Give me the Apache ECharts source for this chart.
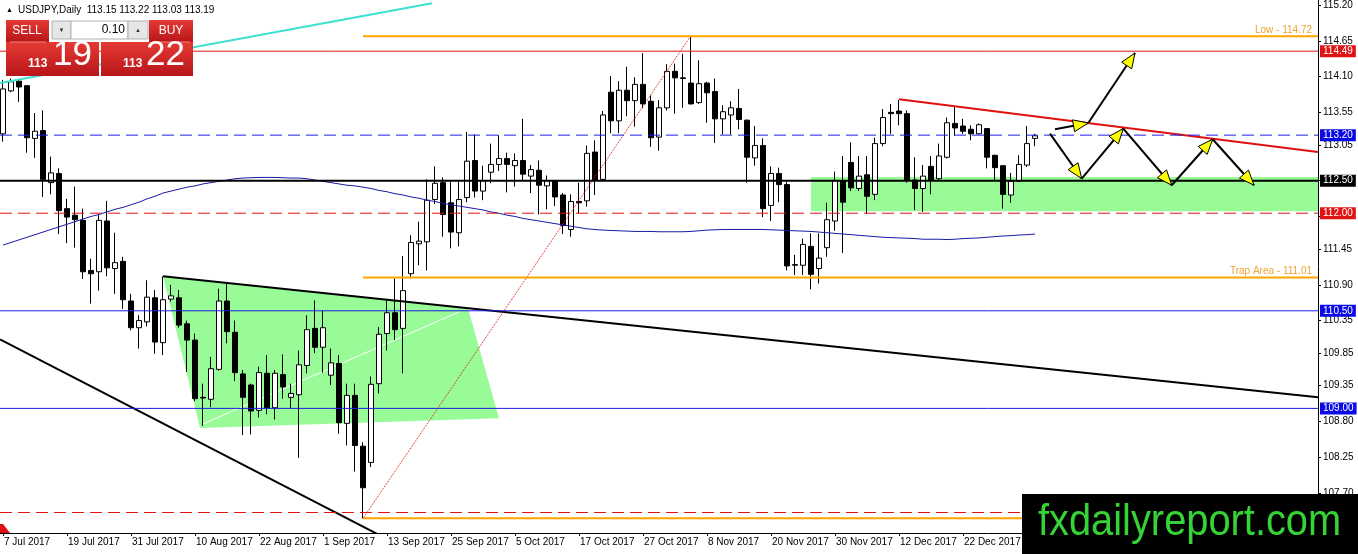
<!DOCTYPE html>
<html><head><meta charset="utf-8">
<script src="https://cdn.jsdelivr.net/npm/echarts@6/dist/echarts.min.js"></script>
<style>html,body{margin:0;padding:0;background:#fff}#c{width:1358px;height:554px}</style>
</head><body><div id="c"></div>
<script>
// ---- data ----
const xTickLabels = ['7 Jul 2017','19 Jul 2017','31 Jul 2017','10 Aug 2017','22 Aug 2017','1 Sep 2017','13 Sep 2017','25 Sep 2017','5 Oct 2017','17 Oct 2017','27 Oct 2017','8 Nov 2017','20 Nov 2017','30 Nov 2017','12 Dec 2017','22 Dec 2017'];
const barsPerLabel = 8;
const yLabelValues = [115.20,114.65,114.10,113.55,113.05,111.45,110.90,110.35,109.85,109.35,108.80,108.25,107.70];
const yTickValues = [115.20,114.65,114.10,113.55,113.05,112.50,111.95,111.45,110.90,110.35,109.85,109.35,108.80,108.25,107.70];

const opens = [
113.22,113.88,114.03,113.96,113.15,113.27,112.47,112.61,112.07,111.97,
111.89,111.12,111.10,111.88,111.15,111.26,110.65,110.24,110.33,110.70,
110.01,110.68,110.70,110.30,110.05,109.17,109.14,109.60,110.65,110.17,
109.53,109.36,108.97,109.54,109.01,109.52,109.17,109.21,109.66,110.23,
109.94,109.51,109.69,108.77,109.20,108.42,108.17,109.38,110.15,110.47,
110.23,111.07,111.53,111.56,112.21,112.47,112.16,111.70,112.24,112.81,
112.34,112.63,112.75,112.84,112.73,112.81,112.57,112.66,112.42,112.50,
112.28,111.75,112.18,112.19,112.94,112.52,113.86,113.42,113.89,113.73,
113.98,113.72,113.17,113.62,114.18,114.08,114.00,113.70,114.00,113.87,
113.45,113.51,113.61,113.43,112.85,113.04,112.12,112.61,112.44,111.20,
111.20,111.49,111.15,111.47,111.88,112.50,112.78,112.38,112.59,112.29,
113.07,113.55,113.57,113.53,112.51,112.38,112.72,112.53,112.86,113.38,
113.34,113.29,113.22,113.30,112.89,112.73,112.28,112.49,112.74,113.15];
const highs = [
114.05,114.07,114.06,113.97,113.54,113.58,112.87,112.69,112.22,112.41,
112.07,111.30,111.97,112.19,111.70,111.33,110.76,110.43,110.97,110.82,
111.03,110.90,110.82,110.35,110.15,109.38,109.79,110.84,110.92,110.35,
109.59,109.38,109.64,109.82,109.59,109.83,109.38,109.89,110.43,110.66,
110.50,109.92,109.82,109.38,109.38,108.48,109.49,110.25,110.66,111.00,
111.34,111.66,111.87,112.52,112.72,112.55,112.48,112.50,113.25,113.21,
112.73,113.07,113.20,112.93,112.92,113.45,112.74,112.81,112.58,112.51,
112.31,112.29,112.47,113.04,113.12,113.57,114.11,114.03,114.25,114.09,
114.46,113.81,113.74,114.29,114.30,114.45,114.73,114.35,114.02,114.07,
113.66,113.72,113.91,113.44,113.34,113.15,112.72,112.70,112.48,111.36,
111.61,111.69,111.69,112.16,112.64,112.88,113.09,112.88,112.88,113.16,
113.60,113.68,113.74,113.58,112.86,112.74,112.88,113.07,113.47,113.63,
113.45,113.35,113.38,113.31,112.90,112.74,112.62,112.89,113.34,113.22];
const lows = [
113.10,113.86,113.71,112.93,112.85,112.25,112.29,111.68,111.54,111.47,
110.99,110.61,110.81,111.03,110.76,110.53,110.20,109.92,110.26,109.84,
109.82,110.64,110.24,109.56,109.11,108.73,109.02,109.58,110.00,109.42,
108.59,108.60,108.86,108.91,108.83,109.15,109.00,108.24,109.54,109.85,
109.55,109.36,108.61,108.43,108.03,107.31,108.10,109.23,109.89,110.05,
109.54,111.00,111.20,111.12,112.14,111.64,111.46,111.49,112.17,112.24,
112.20,112.46,112.65,112.32,112.41,112.51,112.31,111.98,112.06,112.11,
111.68,111.64,112.00,112.10,112.28,112.51,113.23,113.23,113.49,113.33,
113.61,113.02,112.96,113.58,113.53,113.62,113.67,113.68,113.39,113.08,
113.21,113.21,113.29,112.47,112.73,111.94,111.88,112.17,111.12,111.05,
111.05,110.83,110.92,111.33,111.73,111.39,112.34,112.34,111.99,112.20,
113.03,113.22,113.35,112.47,112.05,112.02,112.29,112.51,112.84,113.19,
113.22,113.12,113.21,112.69,112.51,112.07,112.16,112.48,112.71,113.03];
const closes = [
113.91,114.02,113.94,113.16,113.26,112.52,112.62,112.04,111.94,111.90,
111.10,111.07,111.89,111.16,111.24,110.67,110.24,110.35,110.71,110.02,
110.67,110.73,110.28,110.05,109.15,109.16,109.61,110.65,110.18,109.55,
109.17,108.96,109.55,109.01,109.54,109.33,109.23,109.67,110.21,109.94,
110.24,109.70,108.78,109.20,108.43,107.78,109.37,110.14,110.47,110.21,
110.81,111.55,111.57,112.20,112.46,111.98,111.71,112.21,112.80,112.34,
112.50,112.75,112.84,112.75,112.81,112.60,112.67,112.43,112.50,112.25,
111.81,112.18,112.16,112.92,112.51,113.51,113.42,113.89,113.73,113.98,
113.68,113.16,113.62,114.18,114.08,114.07,113.68,113.99,113.85,113.45,
113.56,113.62,113.44,112.86,113.04,112.07,112.61,112.44,111.19,111.21,
111.52,111.06,111.31,111.90,112.50,112.17,112.39,112.57,112.26,113.07,
113.47,113.53,113.53,112.51,112.38,112.57,112.51,112.88,113.39,113.31,
113.26,113.22,113.36,112.86,112.70,112.29,112.49,112.75,113.07,113.19];
const movingAvg = [
111.51,111.55,111.59,111.63,111.67,111.71,111.75,111.79,111.83,111.87,
111.91,111.95,111.98,112.02,112.06,112.09,112.13,112.17,112.22,112.26,
112.31,112.34,112.37,112.40,112.42,112.45,112.47,112.49,112.51,112.53,
112.54,112.545,112.55,112.55,112.55,112.545,112.54,112.54,112.53,112.51,
112.49,112.47,112.45,112.43,112.42,112.40,112.38,112.35,112.33,112.30,
112.28,112.25,112.23,112.20,112.18,112.15,112.13,112.11,112.09,112.07,
112.05,112.02,112.00,111.97,111.95,111.92,111.90,111.88,111.86,111.84,
111.82,111.80,111.78,111.76,111.75,111.74,111.735,111.73,111.725,111.72,
111.72,111.72,111.715,111.715,111.715,111.715,111.72,111.73,111.74,111.745,
111.75,111.75,111.75,111.75,111.75,111.75,111.745,111.74,111.735,111.73,
111.725,111.72,111.71,111.70,111.69,111.68,111.67,111.66,111.65,111.64,
111.63,111.625,111.62,111.615,111.61,111.60,111.60,111.60,111.595,111.60,
111.61,111.615,111.62,111.63,111.64,111.65,111.655,111.665,111.67,111.68];

// horizontal levels (price)
const levelLow = 114.72, levelTrap = 111.01, levelSwingLow = 107.31, levelStartBar = 45;
const levelRed = 114.49, levelBlueDash = 113.20, levelBlack = 112.50, levelRedDash = 112.00;
const levelBlue1 = 110.50, levelBlue2 = 109.00, levelRedDashLow = 107.40;
// trend lines [bar, price]
const cyanTrend = [[-0.375,114.00],[53.625,115.226]];
const lowerTrend = [[-0.375,110.06],[49.625,106.89]];
const upperTrend = [[20,111.03],[164.375,109.17]];
const redTrend = [[112,113.75],[164.375,112.94]];
const fiboTrend = [[45,107.31],[86,114.73]];
const whiteTrend = [[25,108.76],[57.125,110.49]];
// zones (polygons)
const wedgeZone = [[20,111.03],[58.125,110.54],[62,108.85],[24.625,108.70]];
const supportZone = [[101,112.03],[164.375,112.03],[164.375,112.557],[101,112.557]];
// projected path arrows [x1,y1,x2,y2]
const arrows = [
 [131.5,113.29,135.66,113.387],
 [135.66,113.387,141.5,114.462],
 [130.875,113.224,134.84,112.533],
 [134.84,112.533,140.04,113.301],
 [140.04,113.301,146.09,112.43],
 [146.09,112.43,151.21,113.137],
 [151.21,113.137,156.375,112.43]
];
const quote = {sym:'USDJPY,Daily', o:'113.15', h:'113.22', l:'113.03', c:'113.19', bidBig:'19', askBig:'22', handle:'113', lot:'0.10'};

// ---- chart ----
const FONT = 'Tahoma, "Liberation Sans", Arial, sans-serif';
const xMin = -0.375, xMax = 164.375;
const candles = opens.map((o,i)=>[i, o, closes[i], lows[i], highs[i]]);
const maData = movingAvg.map((v,i)=>[i,v]);

function lineSeries(pts, color, width, type, z){
  return {type:'line', data:pts, symbol:'none', clip:true, silent:true, z:z||6,
    lineStyle:{color:color, width:width, type:type||'solid'}, animation:false};
}
function hLevel(price, color, width, type, boxBg, startBar, note){
  const s = lineSeries([[startBar==null?xMin:startBar, price],[xMax, price]], color, width, type, 7);
  if (boxBg) {
    s.endLabel = {show:true, formatter:price.toFixed(2), color:'#fff', backgroundColor:boxBg,
      padding:[1,3,0,3], fontSize:10, fontFamily:FONT, lineHeight:11, distance:2};
  } else if (note) {
    s.endLabel = {show:true, formatter:note, color:'#f0a030', fontSize:10, fontFamily:FONT,
      align:'right', verticalAlign:'bottom', offset:[-6,-1], distance:0};
  }
  return s;
}
const blue='#1c1ce0', red='#e01414', orange='#ffa500', boxBlue='#0a0ae6';

const option = {
  animation:false,
  backgroundColor:'#fff',
  grid:{left:0, right:40, top:0, bottom:21},
  xAxis:{type:'value', min:xMin, max:xMax,
    axisLine:{show:true, onZero:false, lineStyle:{color:'#000', width:1}},
    axisTick:{show:true, length:3, customValues:xTickLabels.map((_,i)=>i*barsPerLabel), lineStyle:{color:'#000'}},
    axisLabel:{show:true, customValues:xTickLabels.map((_,i)=>i*barsPerLabel), formatter:(v)=>xTickLabels[Math.round(v/barsPerLabel)],
      align:'left', color:'#000', fontSize:10, fontFamily:FONT, margin:4, padding:[0,0,0,1]},
    splitLine:{show:false}},
  yAxis:{type:'value', position:'right', min:107.085, max:115.272,
    axisLine:{show:true, onZero:false, lineStyle:{color:'#000', width:1}},
    axisTick:{show:true, length:3, customValues:yTickValues, lineStyle:{color:'#000'}},
    axisLabel:{show:true, customValues:yLabelValues, formatter:(v)=>v.toFixed(2), color:'#000', fontSize:10, fontFamily:FONT, margin:5},
    splitLine:{show:false}},
  series:[
    {type:'custom', z:1, clip:true, silent:true,
      data:[wedgeZone, supportZone].map(p=>p[0]),
      renderItem:(params, api)=>{
        const poly = [wedgeZone, supportZone][params.dataIndex];
        return {type:'polygon', shape:{points:poly.map(p=>api.coord(p))}, style:{fill:'#98fb98'}};
      }},
    lineSeries(whiteTrend, '#ffffff', 1, 'solid', 2),
    {type:'candlestick', z:3, barWidth:5, data:candles, encode:{x:0, y:[1,2,3,4]},
      itemStyle:{color:'#ffffff', color0:'#000000', borderColor:'#000000', borderColor0:'#000000', borderWidth:1}},
    {type:'line', z:4, data:maData, symbol:'none', lineStyle:{color:'#1a1aa8', width:1}},
    lineSeries(cyanTrend, '#40e0d0', 2),
    lineSeries(lowerTrend, '#000', 2),
    lineSeries(upperTrend, '#000', 2),
    lineSeries(redTrend, '#e01010', 2),
    lineSeries(fiboTrend, '#e01010', 1, 'dotted'),
    hLevel(levelRed, red, 1, 'solid', red),
    hLevel(levelBlueDash, blue, 1, [12,6], boxBlue),
    hLevel(levelBlack, '#000', 2, 'solid', '#000'),
    hLevel(levelRedDash, red, 1, [12,6], red),
    hLevel(levelBlue1, blue, 1, 'solid', boxBlue),
    hLevel(levelBlue2, blue, 1, 'solid', boxBlue),
    hLevel(levelRedDashLow, red, 1, [12,6], null),
    hLevel(levelLow, orange, 2, 'solid', null, levelStartBar, 'Low - '+levelLow.toFixed(2)),
    hLevel(levelTrap, orange, 2, 'solid', null, levelStartBar, 'Trap Area - '+levelTrap.toFixed(2)),
    hLevel(levelSwingLow, orange, 2, 'solid', null, levelStartBar, null),
    {type:'custom', z:8, silent:true, data:arrows, encode:{x:[0,2], y:[1,3]},
      renderItem:(params, api)=>{
        const p1 = api.coord([api.value(0), api.value(1)]);
        const p2 = api.coord([api.value(2), api.value(3)]);
        const dx=p2[0]-p1[0], dy=p2[1]-p1[1], len=Math.hypot(dx,dy), ux=dx/len, uy=dy/len;
        const L=15, W=6;
        const b=[p2[0]-ux*L, p2[1]-uy*L];
        return {type:'group', children:[
          {type:'line', shape:{x1:p1[0],y1:p1[1],x2:p2[0],y2:p2[1]}, style:{stroke:'#000', lineWidth:2}},
          {type:'polygon', shape:{points:[p2,[b[0]-uy*W,b[1]+ux*W],[b[0]+uy*W,b[1]-ux*W]]}, style:{fill:'#ffff00', stroke:'#000', lineWidth:1}}
        ]};
      }}
  ],
  graphic:[]
};

const redGrad = ()=>new echarts.graphic.LinearGradient(0,0,0,1,[{offset:0,color:'#e53a33'},{offset:1,color:'#b8151a'}]);
const g = [];
// title
g.push({type:'text', x:6, y:10, z:100, style:{text:'▲', fill:'#000', font:'7px '+FONT, verticalAlign:'middle'}});
g.push({type:'text', x:18, y:10, z:100, style:{text:quote.sym+'  '+quote.o+' '+quote.h+' '+quote.l+' '+quote.c, fill:'#000', font:'10px '+FONT, verticalAlign:'middle'}});
// one-click panel
g.push({type:'rect', z:100, shape:{x:6,y:20,width:43,height:22}, style:{fill:redGrad()}});
g.push({type:'text', z:101, x:27, y:31, style:{text:'SELL', fill:'#fff', font:'12px '+FONT, align:'center', verticalAlign:'middle'}});
g.push({type:'rect', z:100, shape:{x:52,y:21,width:19,height:18}, style:{fill:'#e6e6e6', stroke:'#b0b0b0'}});
g.push({type:'text', z:101, x:61.5, y:30, style:{text:'▼', fill:'#333', font:'6px '+FONT, align:'center', verticalAlign:'middle'}});
g.push({type:'rect', z:100, shape:{x:71,y:21,width:57,height:18}, style:{fill:'#fff', stroke:'#b0b0b0'}});
g.push({type:'text', z:101, x:125, y:30, style:{text:quote.lot, fill:'#000', font:'12px '+FONT, align:'right', verticalAlign:'middle'}});
g.push({type:'rect', z:100, shape:{x:128,y:21,width:20,height:18}, style:{fill:'#e6e6e6', stroke:'#b0b0b0'}});
g.push({type:'text', z:101, x:138, y:30, style:{text:'▲', fill:'#333', font:'6px '+FONT, align:'center', verticalAlign:'middle'}});
g.push({type:'rect', z:100, shape:{x:149,y:20,width:44,height:22}, style:{fill:redGrad()}});
g.push({type:'text', z:101, x:171, y:31, style:{text:'BUY', fill:'#fff', font:'12px '+FONT, align:'center', verticalAlign:'middle'}});
g.push({type:'rect', z:100, shape:{x:6,y:42,width:93,height:34}, style:{fill:redGrad()}});
g.push({type:'rect', z:100, shape:{x:101,y:42,width:92,height:34}, style:{fill:redGrad()}});
g.push({type:'line', z:101, shape:{x1:10,y1:42,x2:46,y2:42}, style:{stroke:'#f08080', lineWidth:1}});
g.push({type:'line', z:101, shape:{x1:153,y1:42,x2:190,y2:42}, style:{stroke:'#f08080', lineWidth:1}});
g.push({type:'text', z:101, x:28, y:70, style:{text:quote.handle, fill:'#fff', font:'bold 12px '+FONT, verticalAlign:'bottom'}});
g.push({type:'text', z:101, x:53, y:73, style:{text:quote.bidBig, fill:'#fff', font:'35px "Liberation Sans", Arial, sans-serif', verticalAlign:'bottom'}});
g.push({type:'text', z:101, x:123, y:70, style:{text:quote.handle, fill:'#fff', font:'bold 12px '+FONT, verticalAlign:'bottom'}});
g.push({type:'text', z:101, x:146, y:73, style:{text:quote.askBig, fill:'#fff', font:'35px "Liberation Sans", Arial, sans-serif', verticalAlign:'bottom'}});
// small marker bottom-left
g.push({type:'polygon', z:100, shape:{points:[[0,524],[3,524],[10,533],[0,533]]}, style:{fill:'#e01010'}});
// watermark
g.push({type:'rect', z:100, shape:{x:1022,y:494,width:336,height:60}, style:{fill:'#000'}});
g.push({type:'text', z:101, x:1038, y:523, scaleX:0.905, style:{text:'fxdailyreport.com', fill:'#35d335', font:'44px "Liberation Sans", Arial, sans-serif', verticalAlign:'middle'}});
option.graphic = g;

const chart = echarts.init(document.getElementById('c'), null, {renderer:'canvas'});
chart.setOption(option);
</script></body></html>
